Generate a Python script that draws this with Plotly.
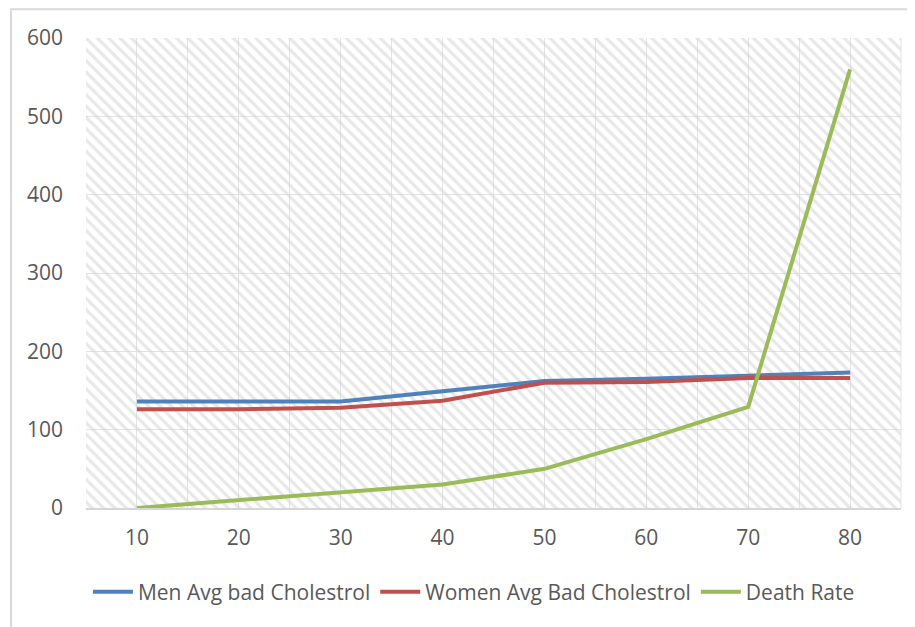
import plotly.graph_objects as go

ages = [10, 20, 30, 40, 50, 60, 70, 80]
men_chol = [136, 136, 136, 149, 162, 165, 169, 173]
women_chol = [126, 126, 128, 137, 160, 161, 166, 166]
death_rate = [0, 10, 20, 30, 50, 88, 129, 560]
y_ticks = [0, 100, 200, 300, 400, 500, 600]

FONT = "Open Sans"
TXT = "#595959"
GRID = "#E3E3E3"
FS = 21

fig = go.Figure()

# hatched plot-area background on base axes (0..1)
fig.add_trace(go.Scatter(
    x=[0, 1, 1, 0, 0], y=[0, 0, 1, 1, 0], xaxis="x", yaxis="y",
    mode="none", fill="toself", fillcolor="rgba(0,0,0,0)",
    fillpattern=dict(shape="\\", fgcolor="#D2D2D2", bgcolor="rgba(255,255,255,0)",
                     size=8, solidity=0.4),
    hoverinfo="skip", showlegend=False))

series = [
    ("Men Avg bad Cholestrol", men_chol, "#4F81BD"),
    ("Women Avg Bad Cholestrol", women_chol, "#C0504D"),
    ("Death Rate", death_rate, "#9BBB59"),
]
for name, vals, col in series:
    fig.add_trace(go.Scatter(x=ages, y=vals, name=name, mode="lines",
                             xaxis="x2", yaxis="y2",
                             line=dict(color=col, width=4)))

fig.update_layout(
    width=915, height=627,
    margin=dict(l=78, r=22, t=30, b=127),
    paper_bgcolor="white", plot_bgcolor="white",
    font=dict(family=FONT, color=TXT, size=FS),
    xaxis=dict(range=[0, 1], visible=False, fixedrange=True),
    yaxis=dict(range=[0, 1], visible=False, fixedrange=True),
    xaxis2=dict(overlaying="x", side="bottom", range=[5, 85],
                tickvals=ages, ticktext=[str(a) for a in ages],
                showgrid=True, gridcolor=GRID, gridwidth=1,
                minor=dict(dtick=5, tick0=5, showgrid=True, gridcolor=GRID, gridwidth=1),
                showline=True, linecolor="#D6D6D6", linewidth=2, mirror=False,
                ticks="", ticklabelstandoff=10, zeroline=False,
                tickfont=dict(size=FS, color=TXT, family=FONT)),
    yaxis2=dict(overlaying="y", side="left", range=[0, 600],
                tickvals=y_ticks, showgrid=True, gridcolor=GRID, gridwidth=1,
                zeroline=False, showline=False, ticks="", ticklabelstandoff=22,
                tickfont=dict(size=FS, color=TXT, family=FONT)),
    legend=dict(orientation="h", xref="paper", x=0.476, xanchor="center",
                y=-0.179, yanchor="middle", font=dict(size=FS, color=TXT, family=FONT),
                itemwidth=40, tracegroupgap=0, bgcolor="rgba(0,0,0,0)"),
    shapes=[
        dict(type="rect", xref="paper", yref="paper", x0=-0.092, x1=1.2,
             y0=-0.5, y1=1.061, line=dict(color="#D9D9D9", width=2),
             fillcolor="rgba(0,0,0,0)", layer="below"),
        dict(type="line", xref="paper", yref="paper", x0=1, x1=1, y0=0, y1=1,
             line=dict(color=GRID, width=1)),
    ],
)

fig.write_html("out.html")
